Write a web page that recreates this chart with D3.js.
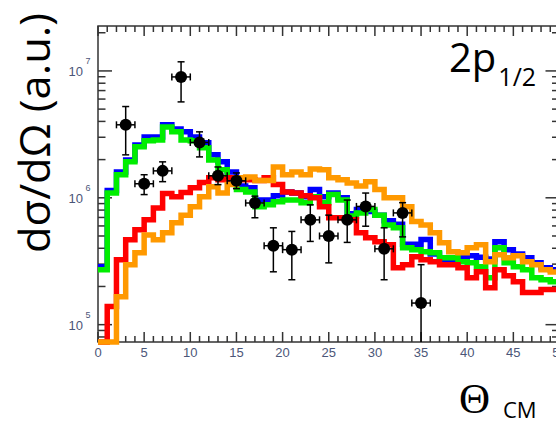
<!DOCTYPE html>
<html>
<head>
<meta charset="utf-8">
<script src="https://cdn.jsdelivr.net/npm/d3@7"></script>
<style>
  body { margin: 0; background: #ffffff; }
  svg { display: block; }
</style>
</head>
<body>
<svg id="chart" width="556" height="425"></svg>
<script>
// Angular distributions, 1-degree bins from 0 to 50 degrees (arbitrary units).
const binEdgesStart = 0;
const binWidth = 1;
const blueHist = [
  2.86e5, 1.14e6, 1.60e6, 1.99e6, 2.61e6, 3.02e6, 3.02e6, 3.76e6, 3.49e6, 3.31e6,
  3.02e6, 2.71e6, 2.18e6, 1.92e6, 1.60e6, 1.24e6, 1.20e6, 9.6e5, 9.6e5, 1.04e6,
  1.11e6, 1.09e6, 1.02e6, 1.16e6, 1.02e6, 1.09e6, 1.0e6, 7.5e5, 8.1e5, 7.8e5,
  7.3e5, 6.6e5, 6.2e5, 4.3e5, 4.3e5, 4.7e5, 3.6e5, 3.25e5, 3.1e5, 3.4e5,
  3.5e5, 3.4e5, 3.3e5, 4.5e5, 3.9e5, 3.6e5, 3.37e5, 3.07e5, 2.81e5, 2.71e5
];
const greenHist = [
  2.71e5, 1.09e6, 1.52e6, 1.92e6, 2.52e6, 2.81e6, 2.86e6, 3.62e6, 3.31e6, 2.86e6,
  2.81e6, 2.48e6, 1.99e6, 1.66e6, 1.44e6, 1.16e6, 1.11e6, 8.5e5, 8.8e5, 9.3e5,
  9.6e5, 9.6e5, 9.15e5, 1.02e6, 9.15e5, 1.06e6, 9.6e5, 7.2e5, 7.6e5, 8.1e5,
  7.3e5, 6.1e5, 5.8e5, 4.04e5, 3.9e5, 3.76e5, 3.69e5, 3.37e5, 3.37e5, 3.13e5,
  3.07e5, 2.86e5, 2.34e5, 4.04e5, 3.07e5, 2.86e5, 2.71e5, 2.34e5, 2.26e5, 2.18e5
];
const redHist = [
  0, 1.39e5, 3.25e5, 4.67e5, 5.6e5, 6.7e5, 8.3e5, 1.08e6, 1.02e6, 1.1e6,
  1.2e6, 1.32e6, 1.44e6, 1.39e6, 1.44e6, 1.39e6, 1.39e6, 1.37e6, 1.44e6, 1.27e6,
  1.11e6, 1.09e6, 1.04e6, 1.0e6, 8.5e5, 6.96e5, 6.96e5, 6.7e5, 5.3e5, 4.84e5,
  4.5e5, 4.27e5, 2.81e5, 2.97e5, 3.43e5, 3.25e5, 3.13e5, 2.97e5, 2.97e5, 2.81e5,
  2.34e5, 2.61e5, 1.95e5, 2.71e5, 2.43e5, 2.18e5, 1.79e5, 1.79e5, 1.89e5, 1.89e5
];
const orangeHist = [
  0, 0, 1.66e5, 2.97e5, 3.69e5, 5.1e5, 4.67e5, 5.3e5, 6.35e5, 7.3e5,
  8.5e5, 1.02e6, 1.22e6, 1.09e6, 1.27e6, 1.44e6, 1.46e6, 1.37e6, 1.37e6, 1.75e6,
  1.52e6, 1.60e6, 1.52e6, 1.69e6, 1.66e6, 1.44e6, 1.39e6, 1.31e6, 1.24e6, 1.34e6,
  1.16e6, 1.0e6, 1.0e6, 8.5e5, 6.5e5, 6.1e5, 5.3e5, 4.43e5, 3.76e5, 3.69e5,
  4.04e5, 4.27e5, 3.13e5, 3.56e5, 3.37e5, 3.5e5, 3.13e5, 2.97e5, 2.71e5, 2.6e5
];

// Measured points: centre angle, value, lower and upper error-bar ends, angular half-width.
const dataAngle = [3, 5, 7, 9, 11, 13, 15, 17, 19, 21, 23, 25, 27, 29, 31, 33, 35];
const dataValue = [3.76e6, 1.29e6, 1.63e6, 8.97e6, 2.73e6, 1.49e6, 1.36e6, 9.1e5, 4.19e5,
                   3.9e5, 6.7e5, 5.0e5, 6.7e5, 8.55e5, 3.96e5, 7.6e5, 1.48e5];
const dataErrLow = [2.18e6, 1.06e6, 1.34e6, 5.7e6, 2.10e6, 1.27e6, 1.18e6, 6.96e5, 2.61e5,
                    2.26e5, 4.53e5, 3.07e5, 4.45e5, 5.97e5, 2.26e5, 4.92e5, 0];
const dataErrHigh = [5.24e6, 1.52e6, 1.92e6, 1.18e7, 3.31e6, 1.75e6, 1.57e6, 1.03e6, 5.8e5,
                     5.43e5, 8.8e5, 7.3e5, 9.6e5, 1.09e6, 5.8e5, 9.15e5, 2.97e5];
const dataHalfWidth = 1;

const xTickLabels = [0, 5, 10, 15, 20, 25, 30, 35, 40, 45, 50];
const yTickLabels = [1e5, 1e6, 1e7];
const yExponents = ["5", "6", "7"];

const svg = d3.select("#chart");
const axisColor = "#333333";
const labelColor = "#4b5678";

const x = d3.scaleLinear().domain([0, 50]).range([98, 559.5]);
const y = d3.scaleLog().domain([7.3e4, 2.26e7]).range([342, 26]);
const yPos = v => (v > 0 ? Math.max(y(v), 0) : y.range()[0]);

// Frame
svg.append("rect")
  .attr("x", x(0)).attr("y", y.range()[1])
  .attr("width", x(50) - x(0)).attr("height", y.range()[0] - y.range()[1])
  .attr("fill", "none").attr("stroke", axisColor).attr("stroke-width", 1.5);

// X ticks (bottom and top, pointing inward)
const xMinor = d3.range(0, 51, 1);
const tickG = svg.append("g").attr("stroke", axisColor).attr("stroke-width", 1.5);
xMinor.forEach(t => {
  const len = t % 5 === 0 ? 10 : 6;
  tickG.append("line").attr("x1", x(t)).attr("x2", x(t))
    .attr("y1", y.range()[0]).attr("y2", y.range()[0] - len);
  tickG.append("line").attr("x1", x(t)).attr("x2", x(t))
    .attr("y1", y.range()[1]).attr("y2", y.range()[1] + len);
});

// Y ticks (left and right, log decades with minor ticks)
const yMinor = [];
[1e4, 1e5, 1e6, 1e7].forEach(dec => {
  for (let k = 1; k <= 9; k++) {
    const v = dec * k;
    if (v >= y.domain()[0] && v <= y.domain()[1]) yMinor.push({ v, major: k === 1 });
  }
});
yMinor.forEach(t => {
  const len = t.major ? 14 : 7.5;
  tickG.append("line").attr("x1", x(0)).attr("x2", x(0) + len)
    .attr("y1", y(t.v)).attr("y2", y(t.v));
  tickG.append("line").attr("x1", x(50)).attr("x2", x(50) - len)
    .attr("y1", y(t.v)).attr("y2", y(t.v));
});

// X tick labels
svg.append("g").selectAll("text").data(xTickLabels).join("text")
  .attr("x", d => x(d)).attr("y", y.range()[0] + 14.5)
  .attr("text-anchor", "middle")
  .attr("font-family", "Liberation Sans, Arial, sans-serif")
  .attr("font-size", 13).attr("fill", labelColor)
  .text(d => d);

// Y tick labels as powers of ten
const yl = svg.append("g");
yTickLabels.forEach((v, i) => {
  yl.append("text")
    .attr("x", x(0) - 15).attr("y", y(v) + 5.5)
    .attr("text-anchor", "end")
    .attr("font-family", "Liberation Sans, Arial, sans-serif")
    .attr("font-size", 13).attr("fill", labelColor)
    .text("10");
  yl.append("text")
    .attr("x", x(0) - 12.5).attr("y", y(v) - 6.5)
    .attr("font-family", "Liberation Sans, Arial, sans-serif")
    .attr("font-size", 9).attr("fill", labelColor)
    .text(yExponents[i]);
});

// Histograms
svg.append("clipPath").attr("id", "plotClip").append("rect")
  .attr("x", x(0)).attr("y", 0).attr("width", 600).attr("height", y.range()[0] + 4);

const stepLine = d3.line().x(d => x(d[0])).y(d => yPos(d[1]));
const histPoints = vals => vals.flatMap((v, i) => [
  [binEdgesStart + i * binWidth, v],
  [binEdgesStart + (i + 1) * binWidth, v]
]);

const series = [
  { vals: blueHist, color: "#0000ff" },
  { vals: greenHist, color: "#00ee00" },
  { vals: redHist, color: "#ff0000" },
  { vals: orangeHist, color: "#ff9900" }
];
const hg = svg.append("g").attr("clip-path", "url(#plotClip)");
series.forEach(s => {
  hg.append("path")
    .attr("d", stepLine(histPoints(s.vals)))
    .attr("fill", "none")
    .attr("stroke", s.color)
    .attr("stroke-width", 5.5)
    .attr("stroke-linejoin", "miter");
});

// Data points with error bars
const pg = svg.append("g").attr("stroke", "#000").attr("stroke-width", 1.5);
dataAngle.forEach((a, i) => {
  const cx = x(a), cy = y(dataValue[i]);
  const yLo = yPos(dataErrLow[i]), yHi = yPos(dataErrHigh[i]);
  const xL = x(a - dataHalfWidth), xR = x(a + dataHalfWidth);
  pg.append("line").attr("x1", cx).attr("x2", cx).attr("y1", yLo).attr("y2", yHi);
  if (dataErrLow[i] > 0) {
    pg.append("line").attr("x1", cx - 3.5).attr("x2", cx + 3.5).attr("y1", yLo).attr("y2", yLo);
  }
  pg.append("line").attr("x1", cx - 3.5).attr("x2", cx + 3.5).attr("y1", yHi).attr("y2", yHi);
  pg.append("line").attr("x1", xL).attr("x2", xR).attr("y1", cy).attr("y2", cy);
  pg.append("line").attr("x1", xL).attr("x2", xL).attr("y1", cy - 3.5).attr("y2", cy + 3.5);
  pg.append("line").attr("x1", xR).attr("x2", xR).attr("y1", cy - 3.5).attr("y2", cy + 3.5);
  pg.append("circle").attr("cx", cx).attr("cy", cy).attr("r", 6)
    .attr("fill", "#000").attr("stroke", "none");
});

// Axis titles and state label
svg.append("text")
  .attr("transform", "translate(50,133) rotate(-90)")
  .attr("text-anchor", "middle")
  .attr("font-family", "Open Sans, Noto Sans, sans-serif")
  .attr("font-size", 42)
  .attr("textLength", 240).attr("lengthAdjust", "spacingAndGlyphs")
  .attr("fill", "#000")
  .text("dσ/dΩ (a.u.)");

const state = svg.append("text")
  .attr("x", 449).attr("y", 72)
  .attr("font-family", "Open Sans, Noto Sans, sans-serif")
  .attr("font-size", 40).attr("fill", "#000");
state.append("tspan").text("2p");
state.append("tspan").attr("font-size", 25).attr("dx", 2).attr("dy", 14).text("1/2");

svg.append("text")
  .attr("x", 459).attr("y", 413)
  .attr("font-family", "Liberation Serif, Times New Roman, serif")
  .attr("font-size", 43).attr("fill", "#000")
  .text("Θ");
svg.append("text")
  .attr("x", 503).attr("y", 418)
  .attr("font-family", "Open Sans, Noto Sans, sans-serif")
  .attr("font-size", 22).attr("fill", "#000")
  .text("CM");
</script>
</body>
</html>
